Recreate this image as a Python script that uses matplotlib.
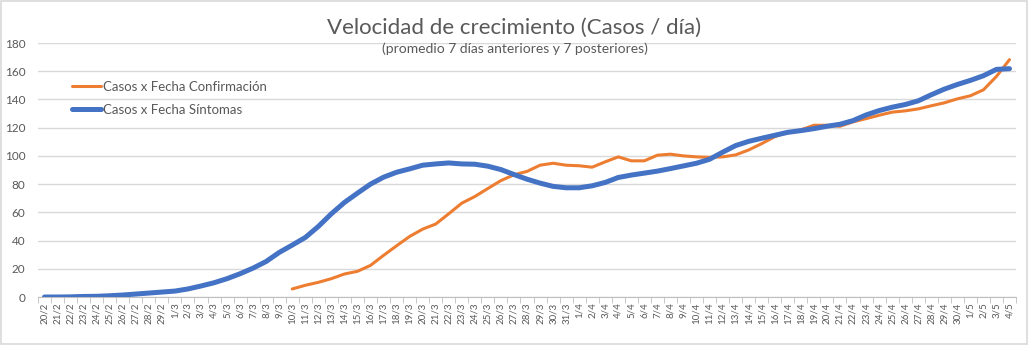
import matplotlib
matplotlib.use("Agg")
import matplotlib.pyplot as plt
from matplotlib.patches import Rectangle
import numpy as np

# fechas 20/2 -> 4/5
fechas = ([f"{d}/2" for d in range(20, 30)] + [f"{d}/3" for d in range(1, 32)]
          + [f"{d}/4" for d in range(1, 31)] + [f"{d}/5" for d in range(1, 5)])

sintomas = [0, 0, 0.1, 0.4, 0.5, 0.9, 1.4, 2.1, 2.8, 3.5,
            4.2, 5.7, 7.8, 10.1, 13, 16.5, 20.5, 25.2, 31.6, 36.8,
            42.2, 50, 59, 67, 73.6, 80, 84.9, 88.4, 90.8, 93.4,
            94.3, 95, 94.3, 94.1, 92.7, 90.3, 86.8, 83.5, 80.7, 78.4,
            77.4, 77.4, 78.8, 81.2, 84.7, 86.4, 87.8, 89.2, 91, 92.9,
            94.8, 97.6, 102.6, 107.3, 110.3, 112.5, 114.6, 116.7, 117.9, 119.3,
            121, 122.4, 125, 129, 132.1, 134.5, 136.4, 139, 143.3, 147.3,
            150.6, 153.5, 156.8, 161.3, 161.8]

confirmacion = [None] * 19 + [
    5.7, 8.3, 10.4, 13, 16.3, 18.2, 22.4, 29.5, 36.3, 42.9,
    48.1, 51.7, 59, 66.5, 71.2, 76.9, 82.5, 86.6, 89, 93.4,
    94.8, 93.4, 93, 92, 95.8, 99.3, 96.5, 96.5, 100.5, 101.2,
    100, 99.3, 99, 99.3, 100.7, 104.2, 108.7, 113.6, 116.7, 118.4,
    121.7, 121.7, 121, 124.1, 126.4, 128.8, 131, 131.9, 133.3, 135.5,
    137.6, 140.4, 142.6, 146.8, 156.3, 168.2]

gris = "#595959"
plt.rcParams["font.family"] = ["Lato", "DejaVu Sans"]

fig = plt.figure(figsize=(10.29, 3.45), dpi=100)
fig.patches.append(Rectangle((0.001, 0.002), 0.997, 0.995, transform=fig.transFigure,
                             fill=False, edgecolor="#d9d9d9", linewidth=1.2))
ax = fig.add_axes([38 / 1029, 48 / 345, 978 / 1029, 254 / 345])

x = np.arange(len(fechas))
conf = np.array([np.nan if v is None else v for v in confirmacion])
ax.plot(x, conf, color="#ED7D31", lw=2.2, solid_capstyle="round",
        label="Casos x Fecha Confirmación", zorder=3)
ax.plot(x, sintomas, color="#4472C4", lw=3.6, solid_capstyle="round",
        label="Casos x Fecha Síntomas", zorder=4)

ax.set_xlim(-0.5, len(fechas) - 0.5)
ax.set_ylim(0, 180)
ax.set_yticks(range(0, 181, 20))
ax.grid(axis="y", color="#d9d9d9", lw=1)
ax.set_axisbelow(True)
for s in ["top", "right", "left"]:
    ax.spines[s].set_visible(False)
ax.spines["bottom"].set_color("#bfbfbf")

ax.set_xticks(x)
ax.set_xticklabels(fechas, rotation=90, fontsize=7, color=gris)
ax.set_xticks(np.arange(len(fechas) + 1) - 0.5, minor=True)
ax.tick_params(axis="x", which="major", length=0, pad=4)
ax.tick_params(axis="x", which="minor", length=4, color="#bfbfbf")
ax.tick_params(axis="y", length=0, labelsize=8.5, labelcolor=gris, pad=9)

fig.text(0.5, 0.92, "Velocidad de crecimiento (Casos / día)", ha="center", va="center",
         fontsize=16, color=gris)
fig.text(0.5, 0.858, "(promedio 7 días anteriores y 7 posteriores)", ha="center", va="center",
         fontsize=10, color=gris)

leg = ax.legend(loc="upper left", bbox_to_anchor=(0.023, 0.898), frameon=False,
                fontsize=9.5, handlelength=2.2, handletextpad=0.1, labelspacing=0.85)
for t in leg.get_texts():
    t.set_color(gris)

fig.savefig("out.png", dpi=100)
